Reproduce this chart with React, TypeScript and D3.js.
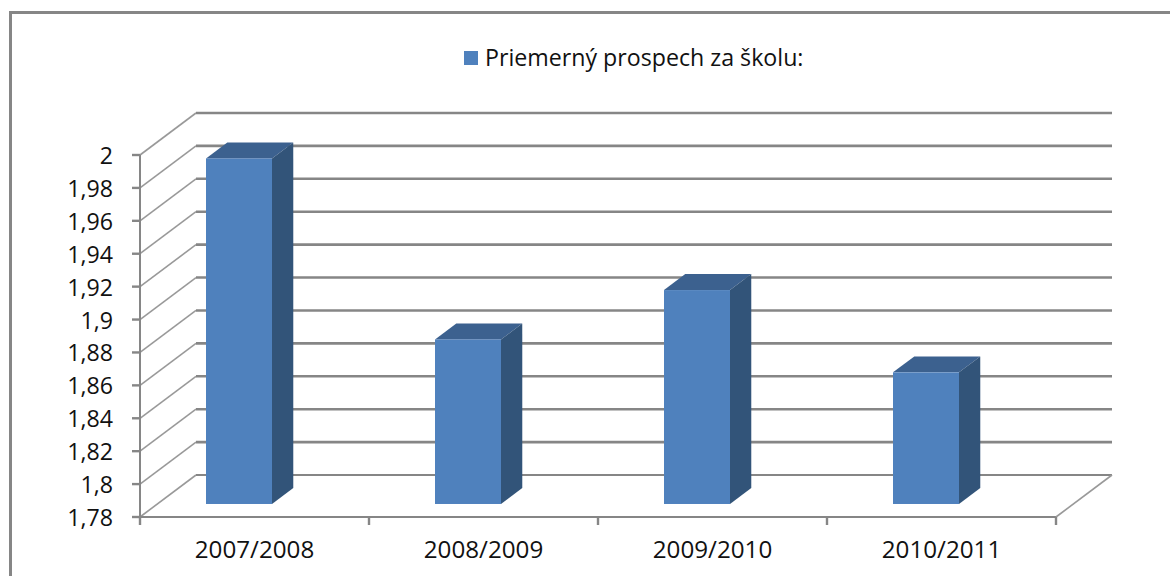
import React from 'react';
import * as d3 from 'd3';

const years = ['2007/2008', '2008/2009', '2009/2010', '2010/2011'];
const prospech = [1.99, 1.88, 1.91, 1.86];
const yTicks = [1.78, 1.8, 1.82, 1.84, 1.86, 1.88, 1.9, 1.92, 1.94, 1.96, 1.98, 2];
const legendLabel = 'Priemerný prospech za školu:';

const W = 1170;
const H = 576;
const FONT = '"Open Sans", "Noto Sans", sans-serif';

// floor depth of the pseudo 3D box
const depthX = 56;
const depthY = -42;
// bars sit between these fractions of the depth
const barNear = 0.31;
const barFar = 0.69;
const barW = 66;

const grid = '#868686';
const front = '#4f81bd';
const top = '#3c618f';
const side = '#325479';
const ink = '#111';

const x = d3.scaleBand<string>().domain(years).range([140, 1056]);
const y = d3.scaleLinear().domain([1.78, 2]).range([517, 155]);
const fmt = (v: number) => String(+v.toFixed(2)).replace('.', ',');
const poly = d3.line<[number, number]>();

export default function App() {
  const y0 = y(1.78);
  const x0 = x.range()[0];
  const x1 = x.range()[1];
  const edges = [...years.map((d) => x(d) as number), x1];
  return (
    <svg
      width={W}
      height={H}
      style={{ position: 'absolute', left: 0, top: 0, background: '#fff' }}
      fontFamily={FONT}
    >
      {/* outer frame, the right side is cut off in the source */}
      <path d={`M10.5,${H}V12.5H${W}`} fill="none" stroke={grid} strokeWidth={3} />

      {/* legend */}
      <rect x={464} y={51} width={14} height={14} fill={front} />
      <text x={485} y={66} fontSize={23.2} fill={ink}>{legendLabel}</text>

      {/* side wall and back wall gridlines */}
      {yTicks.map((t) => (
        <g key={t}>
          <line x1={x0} y1={y(t)} x2={x0 + depthX} y2={y(t) + depthY} stroke="#999" strokeWidth={1.6} />
          <line
            x1={x0 + depthX}
            x2={x1 + depthX}
            y1={y(t) + depthY}
            y2={y(t) + depthY}
            stroke={grid}
            strokeWidth={t === 1.78 ? 2 : 2.6}
          />
          <line x1={x0 - 8} x2={x0} y1={y(t)} y2={y(t)} stroke={grid} strokeWidth={2.4} />
          <text x={x0 - 27} y={y(t) + 9} textAnchor="end" fontSize={23.2} fill={ink}>{fmt(t)}</text>
        </g>
      ))}

      {/* floor and axes */}
      <path d={poly([[x0, y(2)], [x0, y0], [x1, y0]]) as string} fill="none" stroke={grid} strokeWidth={2} />
      <line x1={x1} y1={y0} x2={x1 + depthX} y2={y0 + depthY} stroke="#999" strokeWidth={1.6} />
      {edges.map((e) => (
        <line key={e} x1={e} x2={e} y1={y0} y2={y0 + 8} stroke={grid} strokeWidth={2.4} />
      ))}
      {years.map((d) => (
        <text key={d} x={(x(d) as number) + x.bandwidth() / 2} y={558} textAnchor="middle" fontSize={24.2} fill={ink}>
          {d}
        </text>
      ))}

      {/* bars */}
      {years.map((d, i) => {
        const l = (x(d) as number) + 66;
        const r = l + barW;
        const dx = (barFar - barNear) * depthX;
        const dy = (barFar - barNear) * depthY;
        const b = y0 + barNear * depthY;
        const t = y(prospech[i]) + barNear * depthY;
        return (
          <g key={d}>
            <path d={poly([[l, t], [r, t], [r + dx, t + dy], [l + dx, t + dy]]) + 'Z'} fill={top} />
            <path d={poly([[r, t], [r + dx, t + dy], [r + dx, b + dy], [r, b]]) + 'Z'} fill={side} />
            <rect x={l} y={t} width={barW} height={b - t} fill={front} />
          </g>
        );
      })}
    </svg>
  );
}
